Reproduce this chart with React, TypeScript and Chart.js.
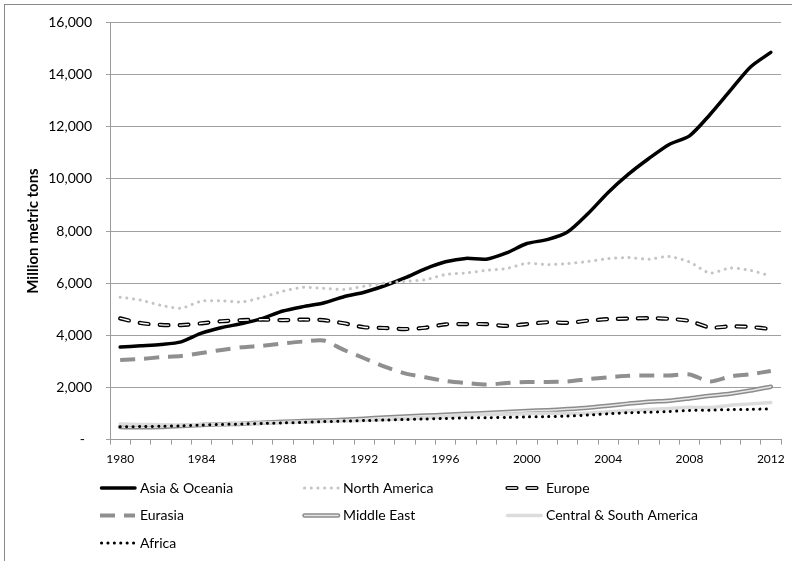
import React, { useEffect, useRef } from 'react';
import { Chart, registerables } from 'chart.js';

Chart.register(...registerables);

const years = ['1980','1981','1982','1983','1984','1985','1986','1987','1988','1989','1990','1991','1992','1993','1994','1995','1996','1997','1998','1999','2000','2001','2002','2003','2004','2005','2006','2007','2008','2009','2010','2011','2012'];
const shownYearLabels = ['1980','1984','1988','1992','1996','2000','2004','2008','2012'];

const asiaOceania = [3550,3600,3650,3750,4080,4300,4450,4650,4930,5100,5240,5480,5650,5900,6200,6550,6820,6950,6920,7160,7520,7670,7960,8660,9480,10180,10780,11320,11650,12460,13380,14290,14850];
const northAmerica = [5460,5350,5150,5040,5310,5320,5280,5460,5690,5840,5800,5760,5880,6000,6070,6130,6330,6390,6490,6560,6760,6710,6750,6830,6940,6980,6920,7020,6810,6390,6580,6490,6270];
const europe = [4650,4470,4400,4390,4460,4540,4580,4600,4580,4600,4580,4460,4310,4280,4240,4290,4420,4430,4430,4360,4430,4500,4480,4560,4620,4640,4660,4630,4550,4300,4340,4320,4240];
const eurasia = [3050,3090,3160,3210,3320,3440,3540,3600,3690,3760,3800,3440,3120,2800,2540,2390,2250,2170,2110,2170,2210,2210,2230,2320,2390,2450,2460,2460,2500,2230,2420,2510,2630];
const middleEast = [480,470,480,520,560,590,610,650,680,710,730,760,800,850,890,920,950,990,1020,1060,1100,1130,1170,1220,1300,1380,1450,1490,1580,1680,1760,1880,2030];
const centralSouthAmerica = [600,580,570,560,580,590,620,640,660,670,690,710,730,760,800,840,880,930,960,970,990,1010,1000,1010,1070,1110,1150,1190,1240,1230,1320,1370,1420];
const africa = [490,500,510,530,560,580,600,620,640,660,690,710,730,750,770,790,810,830,840,850,870,880,900,940,990,1030,1050,1080,1120,1130,1150,1160,1180];

const seriesNames = ['Asia & Oceania','North America','Europe','Eurasia','Middle East','Central & South America','Africa'];
const seriesValues = [asiaOceania, northAmerica, europe, eurasia, middleEast, centralSouthAmerica, africa];

type LineStyle = { color: string; width: number; dash: number[]; cap: CanvasLineCap; inner?: { color: string; width: number } };
const seriesStyles: LineStyle[] = [
  { color: '#000000', width: 3.5, dash: [], cap: 'round' },
  { color: '#c4c4c4', width: 3, dash: [0.1, 6.6], cap: 'round' },
  { color: '#000000', width: 4.2, dash: [9, 11], cap: 'round', inner: { color: '#ffffff', width: 1.4 } },
  { color: '#8f8f8f', width: 4, dash: [15, 9], cap: 'butt' },
  { color: '#8c8c8c', width: 4.5, dash: [], cap: 'round', inner: { color: '#e6e6e6', width: 1.5 } },
  { color: '#dcdcdc', width: 3.5, dash: [], cap: 'round' },
  { color: '#000000', width: 3, dash: [0.1, 6.3], cap: 'round' },
];

const FONT = 'Lato, "Liberation Sans", Arial, sans-serif';

const legendPlugin = {
  id: 'gridLegend',
  afterDraw(chart: any) {
    const ctx = chart.ctx as CanvasRenderingContext2D;
    ctx.save();
    seriesNames.forEach((name, i) => {
      const col = i % 3;
      const row = Math.floor(i / 3);
      const x = 100 + col * 203;
      const y = 488 + row * 27.5;
      const st = seriesStyles[i];
      const drawSeg = (color: string, width: number) => {
        ctx.beginPath();
        ctx.strokeStyle = color;
        ctx.lineWidth = width;
        ctx.lineCap = st.cap;
        ctx.setLineDash(st.dash);
        ctx.moveTo(x + (st.cap === 'round' ? 1.5 : 0), y);
        ctx.lineTo(x + 35, y);
        ctx.stroke();
      };
      drawSeg(st.color, st.width);
      if (st.inner) drawSeg(st.inner.color, st.inner.width);
      ctx.setLineDash([]);
      ctx.fillStyle = '#000000';
      ctx.font = `14px ${FONT}`;
      ctx.textBaseline = 'middle';
      ctx.textAlign = 'left';
      ctx.fillText(name, x + 40, y);
    });
    ctx.restore();
  },
};

export default function App() {
  const ref = useRef<HTMLCanvasElement | null>(null);

  useEffect(() => {
    if (!ref.current) return;
    const datasets: any[] = [];
    seriesNames.forEach((name, i) => {
      const st = seriesStyles[i];
      datasets.push({
        label: name,
        data: seriesValues[i],
        borderColor: st.color,
        backgroundColor: st.color,
        borderWidth: st.width,
        borderDash: st.dash,
        borderCapStyle: st.cap,
        borderJoinStyle: 'round',
        pointRadius: 0,
        pointHoverRadius: 0,
        tension: 0.25,
        fill: false,
        order: -i,
      });
      if (st.inner) {
        datasets.push({
          label: name + ' inner',
          data: seriesValues[i],
          borderColor: st.inner.color,
          borderWidth: st.inner.width,
          borderDash: st.dash,
          borderCapStyle: st.cap,
          borderJoinStyle: 'round',
          pointRadius: 0,
          pointHoverRadius: 0,
          tension: 0.25,
          fill: false,
          order: -i - 0.5,
        });
      }
    });

    const chart = new Chart(ref.current, {
      type: 'line',
      data: { labels: years, datasets },
      plugins: [legendPlugin],
      options: {
        responsive: false,
        animation: false,
        devicePixelRatio: 1,
        layout: { padding: { top: 12, right: 11, bottom: 88, left: 24 } },
        plugins: { legend: { display: false }, tooltip: { enabled: false } },
        scales: {
          x: {
            type: 'category',
            offset: true,
            grid: { offset: true, drawOnChartArea: false, drawTicks: true, tickLength: 5, color: '#9a9a9a' },
            border: { color: '#9a9a9a', width: 1 },
            ticks: {
              autoSkip: false,
              maxRotation: 0,
              padding: 7,
              color: '#000000',
              font: { family: FONT, size: 12 },
              callback: (_v: any, idx: number) => (shownYearLabels.includes(years[idx]) ? years[idx] : ''),
            },
          },
          y: {
            min: 0,
            max: 16000,
            afterFit: (scale: any) => { scale.width = 86; },
            grid: { color: '#a0a0a0', lineWidth: 1, tickLength: 4, drawTicks: true },
            border: { color: '#9a9a9a', width: 1 },
            ticks: {
              stepSize: 2000,
              padding: 14,
              color: '#000000',
              font: { family: FONT, size: 14 },
              callback: (v: any) => (v === 0 ? '-  ' : Number(v).toLocaleString('en-US')),
            },
            title: {
              display: true,
              text: 'Million metric tons',
              color: '#000000',
              font: { family: FONT, size: 15, weight: 'bold' },
              padding: { top: 0, bottom: 2 },
            },
          },
        },
      },
    });
    return () => chart.destroy();
  }, []);

  return (
    <div style={{ position: 'fixed', left: 0, top: 0, width: 792, height: 561, overflow: 'hidden', background: '#ffffff' }}>
      <div style={{ position: 'absolute', left: 4, top: 4, width: 900, height: 560, borderTop: '1px solid #888888', borderLeft: '1px solid #888888' }} />
      <canvas ref={ref} width={792} height={561} style={{ position: 'absolute', left: 0, top: 0, width: 792, height: 561 }} />
    </div>
  );
}
